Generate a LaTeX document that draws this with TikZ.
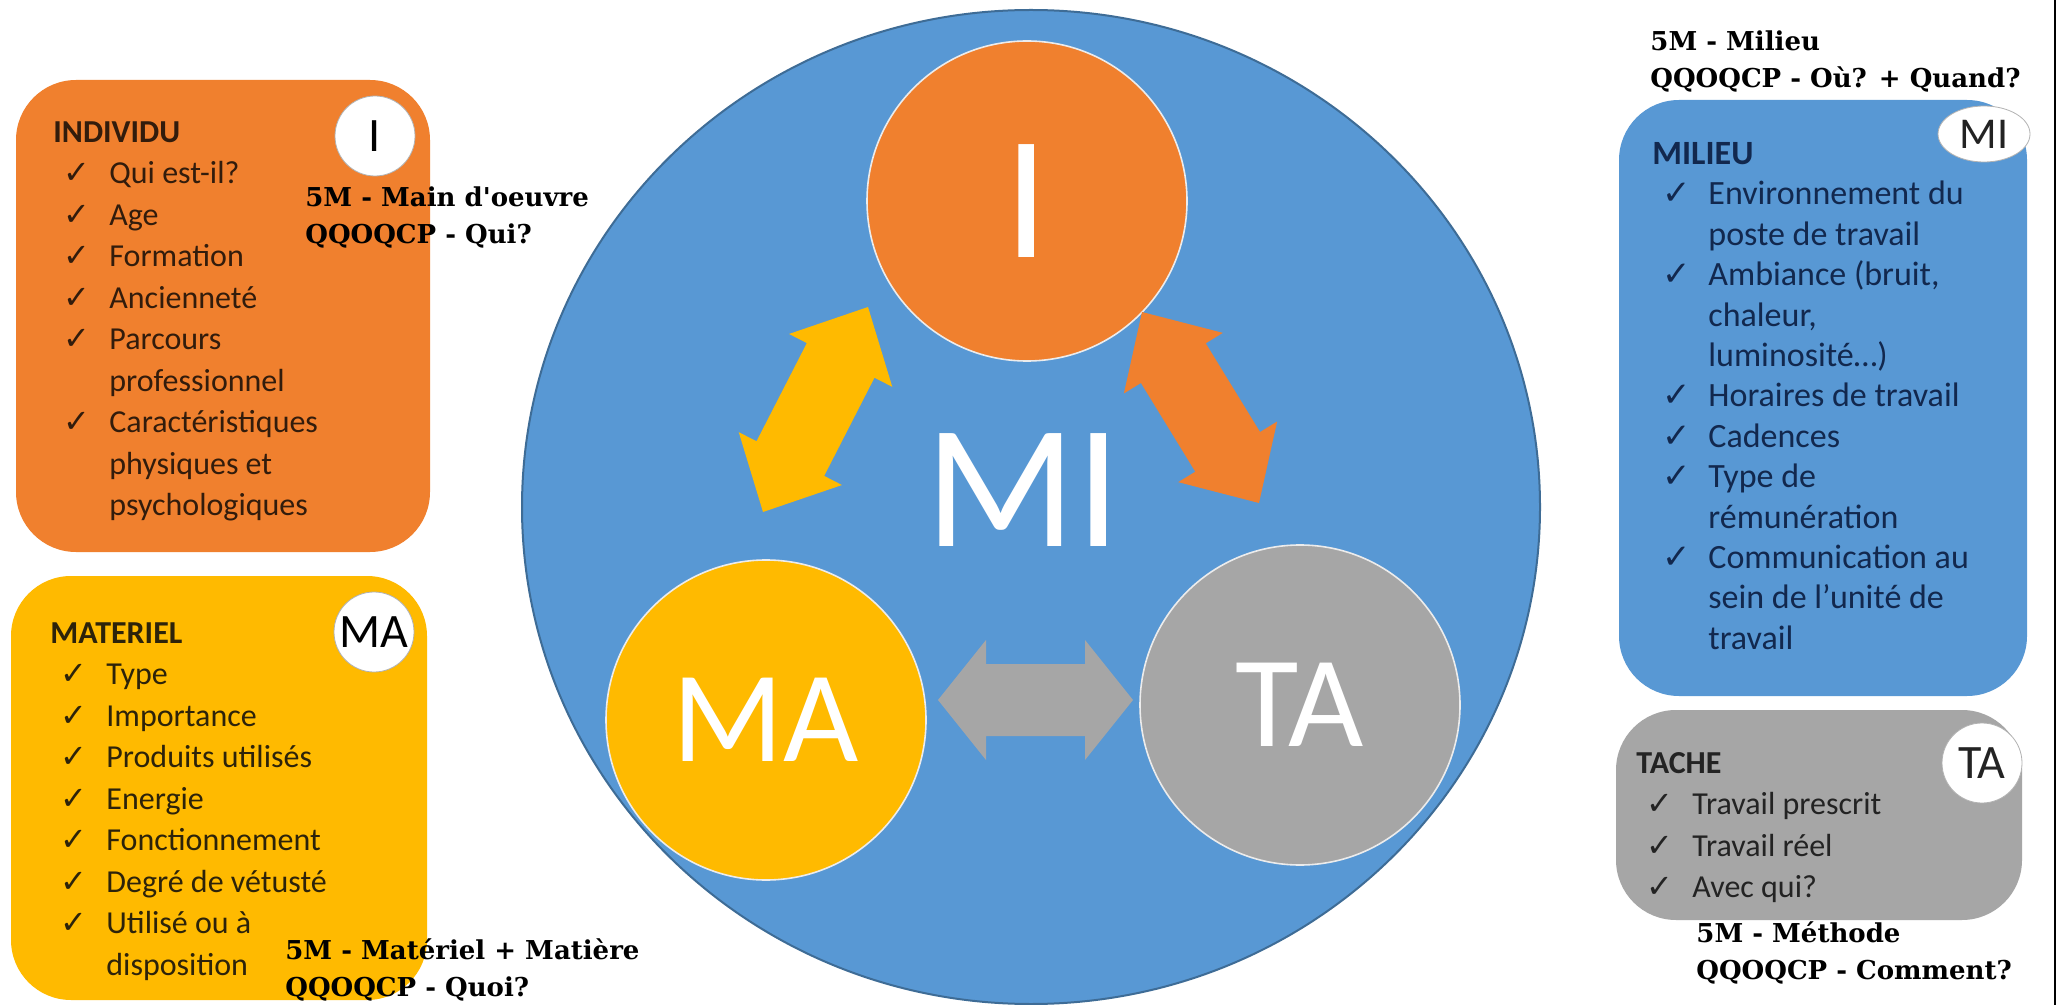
\documentclass[tikz,border=0pt]{standalone}
\usepackage{fontspec}
\setmainfont{Carlito}
\newfontfamily\slabfont{DejaVu Serif}
\newfontfamily\symfont{DejaVu Sans}
\usetikzlibrary{calc,shapes.geometric}

\definecolor{orangeI}{RGB}{240,128,46}
\definecolor{goldMA}{RGB}{255,186,0}
\definecolor{blueMI}{RGB}{88,152,212}
\definecolor{greyTA}{RGB}{166,166,166}
\definecolor{blueline}{RGB}{62,108,150}
\definecolor{inkI}{RGB}{50,28,12}
\definecolor{inkMA}{RGB}{45,35,10}
\definecolor{inkMI}{RGB}{18,40,78}
\definecolor{inkTA}{RGB}{35,35,35}

\newcommand\itm{\hspace*{5pt}\makebox[23pt][l]{\symfont\char"2713}}
\newcommand\cont{\hspace*{28pt}}
\newcommand\dblarrow[3]{%
	\coordinate (h1) at ($(#2)!\headlen!(#3)$);
	\coordinate (h2) at ($(#3)!\headlen!(#2)$);
	\fill[#1] (#2) -- ($(h1)!\headw!90:(#3)$) -- ($(h1)!\shaftw!90:(#3)$)
		-- ($(h2)!\shaftw!-90:(#2)$) -- ($(h2)!\headw!-90:(#2)$) -- (#3)
		-- ($(h2)!\headw!90:(#2)$) -- ($(h2)!\shaftw!90:(#2)$)
		-- ($(h1)!\shaftw!-90:(#3)$) -- ($(h1)!\headw!-90:(#3)$) -- cycle;
}

\begin{document}
\begin{tikzpicture}[x=0.5pt,y=-0.5pt,
	infobox/.style={rounded corners=30pt,inner sep=0pt},
	listtext/.style={anchor=north west,inner sep=0pt,align=left,font=\fontsize{16}{20.75}\selectfont},
	tag/.style={circle,draw=gray!60,fill=white,inner sep=0pt,minimum size=40pt,font=\fontsize{24}{24}\selectfont},
	disc/.style={circle,draw=white!85!gray,line width=0.8pt,inner sep=0pt,minimum size=160pt,text=white},
	fivem/.style={anchor=west,inner sep=0pt,align=left,font=\slabfont\bfseries\fontsize{13}{18.5}\selectfont}]
	
	\useasboundingbox (0,0) rectangle (2067,1005);
	\fill[white] (0,0) rectangle (2067,1005);
	
	% big circle
	\node[ellipse,draw=blueline,line width=1pt,fill=blueMI,minimum width=509pt,minimum height=497pt] (MIc) at (1031,507) {};
	\node[text=white,font=\fontsize{88}{88}\selectfont] (MI) at (1023,490) {MI};
	
	\node[disc,fill=orangeI,font=\fontsize{88}{88}\selectfont] (I) at (1027,201) {I};
	\node[disc,fill=goldMA,font=\fontsize{65}{65}\selectfont] (MA) at (766,720) {MA};
	\node[disc,fill=greyTA,font=\fontsize{65}{65}\selectfont] (TA) at (1300,705) {TA};
	
	\coordinate (ya) at (763,512);
	\coordinate (yb) at (868,307);
	\coordinate (oa) at (1142,312);
	\coordinate (ob) at (1259,503);
	\coordinate (ga) at (938,700);
	\coordinate (gb) at (1133,700);
	\def\headlen{30pt}\def\headw{29pt}\def\shaftw{19pt}
	\dblarrow{goldMA}{ya}{yb}
	\dblarrow{orangeI}{oa}{ob}
	\def\headlen{24pt}\def\headw{30pt}\def\shaftw{18pt}
	\dblarrow{greyTA}{ga}{gb}
	
	% individu
	\node[infobox,fill=orangeI,minimum width=207pt,minimum height=236pt] (boxI) at (223,316) {};
	\node[listtext,text=inkI] (txtI) at (53,121) {{\bfseries INDIVIDU}\\
		\itm Qui est-il?\\ \itm Age\\ \itm Formation\\ \itm Ancienneté\\
		\itm Parcours\\ \cont professionnel\\ \itm Caractéristiques\\
		\cont physiques et\\ \cont psychologiques};
	\node[tag] (tagI) at (375,136) {I};
	\node[fivem] (mI) at (305,217) {5M - Main d'oeuvre\\QQOQCP - Qui?};
	
	% materiel
	\node[infobox,fill=goldMA,minimum width=208pt,minimum height=212pt] (boxMA) at (219,788) {};
	\node[listtext,text=inkMA] (txtMA) at (50,622) {{\bfseries MATERIEL}\\
		\itm Type\\ \itm Importance\\ \itm Produits utilisés\\ \itm Energie\\
		\itm Fonctionnement\\ \itm Degré de vétusté\\ \itm Utilisé ou à\\
		\cont disposition};
	\node[tag] (tagMA) at (374,632) {MA};
	\node[fivem] (mMA) at (285,970) {5M - Matériel + Matière\\QQOQCP - Quoi?};
	
	% milieu
	\node[infobox,fill=blueMI,minimum width=204pt,minimum height=298pt] (boxMI) at (1823,398) {};
	\node[listtext,text=inkMI,font=\fontsize{17}{20.2}\selectfont] (txtMI) at (1652,142) {{\bfseries MILIEU}\\
		\itm Environnement du\\ \cont poste de travail\\ \itm Ambiance (bruit,\\
		\cont chaleur,\\ \cont luminosité…)\\ \itm Horaires de travail\\
		\itm Cadences\\ \itm Type de\\ \cont rémunération\\
		\itm Communication au\\ \cont sein de l’unité de\\ \cont travail};
	\node[tag,ellipse,minimum width=46pt,minimum height=28pt,text=inkTA,font=\fontsize{22}{22}\selectfont] (tagMI) at (1984,134) {MI};
	\node[fivem] (mMI) at (1650,61) {5M - Milieu\\QQOQCP - Où? + Quand?};
	
	% tache
	\node[infobox,fill=greyTA,minimum width=203pt,minimum height=105pt] (boxTA) at (1819,815) {};
	\node[listtext,text=inkTA] (txtTA) at (1636,752) {{\bfseries TACHE}\\
		\itm Travail prescrit\\ \itm Travail réel\\ \itm Avec qui?};
	\node[tag,text=inkTA] (tagTA) at (1982,763) {TA};
	\node[fivem] (mTA) at (1696,953) {5M - Méthode\\QQOQCP - Comment?};
	
	\draw[line width=1pt] (2055,0) -- (2055,1005);
	
\end{tikzpicture}
\end{document}
